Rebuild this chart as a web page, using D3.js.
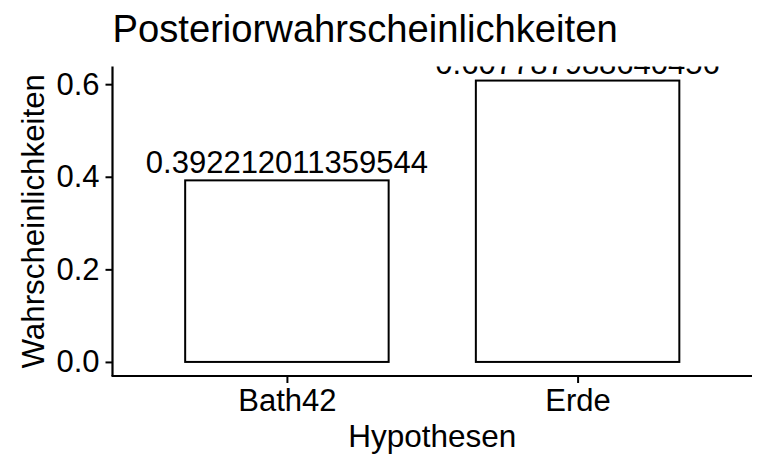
<!DOCTYPE html>
<html><head><meta charset="utf-8">
<script src="https://cdn.jsdelivr.net/npm/d3@7"></script>
<style>
html,body{margin:0;padding:0;background:#fff;}
text{font-family:"Liberation Sans",Arial,sans-serif;fill:#000;}
</style></head>
<body><div id="chart"></div>
<script>
const categories = ["Bath42", "Erde"];
const values = [0.392212011359544, 0.607787988640456];
const labels = ["0.392212011359544", "0.607787988640456"];
const yTicks = [0.0, 0.2, 0.4, 0.6];
const yTickLabels = ["0.0", "0.2", "0.4", "0.6"];
const title = "Posteriorwahrscheinlichkeiten";
const xTitle = "Hypothesen";
const yTitle = "Wahrscheinlichkeiten";

const W = 768, H = 474;
const panel = {left: 112.5, right: 752, top: 66.5, bottom: 376};

const svg = d3.select("#chart").append("svg").attr("width", W).attr("height", H);

const maxV = d3.max(values);
const ex = maxV * 0.05;
const y = d3.scaleLinear().domain([0 - ex, maxV + ex]).range([panel.bottom, panel.top]);
const xPos = d3.scaleLinear().domain([0.4, categories.length + 0.6]).range([panel.left, panel.right]);
const barW = 0.7;

svg.append("defs").append("clipPath").attr("id", "clip")
  .append("rect").attr("x", panel.left).attr("y", panel.top)
  .attr("width", panel.right - panel.left).attr("height", panel.bottom - panel.top);

const g = svg.append("g").attr("clip-path", "url(#clip)");

g.selectAll("rect.bar").data(values).join("rect").attr("class", "bar")
  .attr("x", (d, i) => xPos(i + 1 - barW / 2))
  .attr("width", xPos(1 + barW / 2) - xPos(1 - barW / 2))
  .attr("y", d => y(d))
  .attr("height", d => y(0) - y(d))
  .attr("fill", "#fff").attr("stroke", "#000").attr("stroke-width", 2);

g.selectAll("text.lab").data(values).join("text").attr("class", "lab")
  .attr("x", (d, i) => xPos(i + 1))
  .attr("y", d => y(d) - 7)
  .attr("text-anchor", "middle").attr("font-size", 31)
  .text((d, i) => labels[i]);

// y axis
const yAxis = d3.axisLeft(y).tickValues(yTicks).tickFormat((d, i) => yTickLabels[i])
  .tickSize(7).tickPadding(6).tickSizeOuter(0);
const ya = svg.append("g").attr("transform", `translate(${panel.left},0)`).call(yAxis);
ya.select(".domain").attr("stroke", "#000").attr("stroke-width", 2.2)
  .attr("d", `M0,${panel.top}V${panel.bottom}`);
ya.selectAll(".tick line").attr("stroke", "#000").attr("stroke-width", 2);
ya.selectAll(".tick text").attr("font-size", 31).attr("font-family", "Liberation Sans, Arial, sans-serif").attr("fill", "#000");

// x axis
const xAxis = d3.axisBottom(xPos).tickValues(categories.map((c, i) => i + 1))
  .tickFormat((d, i) => categories[i]).tickSize(7).tickPadding(6).tickSizeOuter(0);
const xa = svg.append("g").attr("transform", `translate(0,${panel.bottom})`).call(xAxis);
xa.select(".domain").attr("stroke", "#000").attr("stroke-width", 2.2)
  .attr("d", `M${panel.left - 1},0H${panel.right}`);
xa.selectAll(".tick line").attr("stroke", "#000").attr("stroke-width", 2);
xa.selectAll(".tick text").attr("font-size", 31).attr("font-family", "Liberation Sans, Arial, sans-serif").attr("fill", "#000");

// titles
svg.append("text").attr("x", panel.left).attr("y", 42).attr("font-size", 38.2).text(title);
svg.append("text").attr("x", (panel.left + panel.right) / 2).attr("y", 447)
  .attr("text-anchor", "middle").attr("font-size", 31.5).text(xTitle);
svg.append("text").attr("transform", `translate(44,${(panel.top + panel.bottom) / 2}) rotate(-90)`)
  .attr("text-anchor", "middle").attr("font-size", 31.3).text(yTitle);
</script></body></html>
